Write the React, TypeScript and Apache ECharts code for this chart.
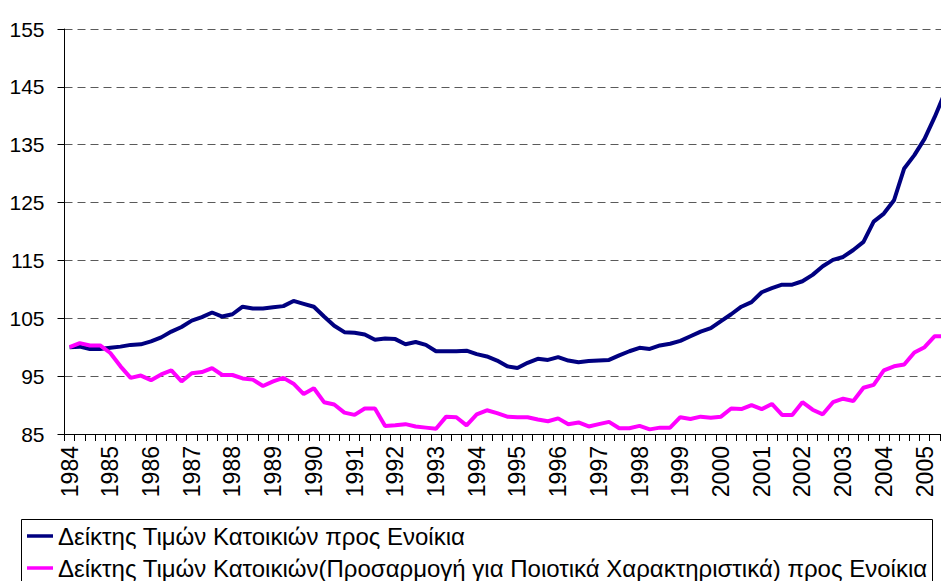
import React, { useEffect, useRef } from "react";
import * as echarts from "echarts";

const years = [
  "1984", "1985", "1986", "1987", "1988", "1989", "1990", "1991", "1992", "1993", "1994",
  "1995", "1996", "1997", "1998", "1999", "2000", "2001", "2002", "2003", "2004", "2005",
];
const quarters = ["Q1", "Q2", "Q3", "Q4"];
const quarterCount = 87; // 1984Q1 .. 2005Q3

const seriesNames = [
  "Δείκτης Τιμών Κατοικιών προς Ενοίκια",
  "Δείκτης Τιμών Κατοικιών(Προσαρμογή για Ποιοτικά Χαρακτηριστικά) προς Ενοίκια",
];

const priceToRent = [
  100.0, 100.1, 99.7, 99.7, 99.9, 100.1, 100.4, 100.5, 101.0, 101.7,
  102.7, 103.5, 104.6, 105.2, 106.0, 105.3, 105.7, 107.0, 106.7, 106.7,
  106.9, 107.1, 108.0, 107.5, 107.0, 105.3, 103.7, 102.6, 102.5, 102.2,
  101.3, 101.5, 101.4, 100.5, 100.9, 100.4, 99.3, 99.3, 99.3, 99.4,
  98.8, 98.4, 97.7, 96.7, 96.4, 97.3, 98.0, 97.8, 98.3, 97.7,
  97.4, 97.6, 97.7, 97.8, 98.6, 99.3, 99.9, 99.7, 100.3, 100.6,
  101.1, 101.9, 102.7, 103.3, 104.5, 105.7, 107.0, 107.8, 109.5, 110.2,
  110.8, 110.8, 111.4, 112.5, 114.0, 115.1, 115.6, 116.8, 118.2, 121.7,
  123.1, 125.4, 130.9, 133.2, 136.0, 139.8, 144.0,
];

const priceToRentAdjusted = [
  100.0, 100.7, 100.3, 100.3, 99.0, 96.7, 94.7, 95.1, 94.3, 95.3,
  96.0, 94.1, 95.5, 95.7, 96.4, 95.2, 95.2, 94.6, 94.4, 93.3,
  94.1, 94.7, 93.7, 91.9, 92.9, 90.5, 90.1, 88.7, 88.3, 89.4,
  89.4, 86.4, 86.5, 86.7, 86.3, 86.1, 85.9, 88.0, 87.9, 86.5,
  88.4, 89.1, 88.6, 88.0, 87.9, 87.9, 87.5, 87.2, 87.7, 86.7,
  87.0, 86.3, 86.7, 87.1, 86.0, 86.0, 86.4, 85.8, 86.1, 86.1,
  87.9, 87.6, 88.0, 87.8, 88.0, 89.4, 89.3, 90.0, 89.3, 90.2,
  88.3, 88.3, 90.5, 89.2, 88.4, 90.5, 91.1, 90.7, 93.0, 93.5,
  96.0, 96.7, 97.0, 99.1, 100.0, 101.9, 101.9,
];

const yMin = 85;
const yMax = 155;
const yInterval = 10;

const FONT = '"Liberation Sans", Arial, sans-serif';

export default function App() {
  const ref = useRef<HTMLDivElement>(null);
  useEffect(() => {
    if (!ref.current) return;
    const chart = echarts.init(ref.current, undefined, { renderer: "svg" });
    const categories: string[] = [];
    for (let i = 0; i < quarterCount; i++) {
      categories.push(years[Math.floor(i / 4)] + quarters[i % 4]);
    }
    chart.setOption({
      animation: false,
      backgroundColor: "#ffffff",
      textStyle: { fontFamily: FONT },
      grid: { left: 64.5, right: 1, top: 29, bottom: 147, containLabel: false },
      xAxis: {
        type: "category",
        data: categories,
        boundaryGap: true,
        axisLine: { show: true, lineStyle: { color: "#000", width: 1 } },
        axisTick: { show: true, interval: 0, length: 7, lineStyle: { color: "#000", width: 1 } },
        axisLabel: {
          interval: 3,
          rotate: 90,
          margin: 12,
          color: "#000",
          fontSize: 23,
          fontFamily: FONT,
          formatter: (v: string) => v.slice(0, 4),
        },
        splitLine: { show: false },
      },
      yAxis: {
        type: "value",
        min: yMin,
        max: yMax,
        interval: yInterval,
        axisLine: { show: true, lineStyle: { color: "#000", width: 1 } },
        axisTick: { show: true, length: 7, lineStyle: { color: "#000", width: 1 } },
        axisLabel: { color: "#000", fontSize: 21, margin: 20, fontFamily: FONT },
        splitLine: {
          show: true,
          lineStyle: { color: "#5a5a5a", width: 1, type: [8, 5] },
        },
      },
      legend: {
        orient: "vertical",
        left: 27,
        top: 523,
        padding: 0,
        itemGap: 6,
        itemWidth: 26,
        itemHeight: 3.5,
        icon: "rect",
        textStyle: { fontSize: 24, color: "#000", fontFamily: FONT, lineHeight: 26 },
        data: seriesNames,
      },
      graphic: [
        {
          type: "rect",
          shape: { x: 21.5, y: 519.5, width: 911, height: 80 },
          style: { fill: "none", stroke: "#000", lineWidth: 1 },
          silent: true,
        },
      ],
      series: [
        {
          name: seriesNames[0],
          type: "line",
          data: priceToRent,
          symbol: "none",
          lineStyle: { color: "#000080", width: 4 },
          itemStyle: { color: "#000080" },
        },
        {
          name: seriesNames[1],
          type: "line",
          data: priceToRentAdjusted,
          symbol: "none",
          lineStyle: { color: "#ff00ff", width: 4 },
          itemStyle: { color: "#ff00ff" },
        },
      ],
    });
    return () => chart.dispose();
  }, []);
  return (
    <div style={{ position: "fixed", left: 0, top: 0, width: 941, height: 581, overflow: "hidden", background: "#fff" }}>
      <div ref={ref} style={{ width: 951, height: 581 }} />
    </div>
  );
}
